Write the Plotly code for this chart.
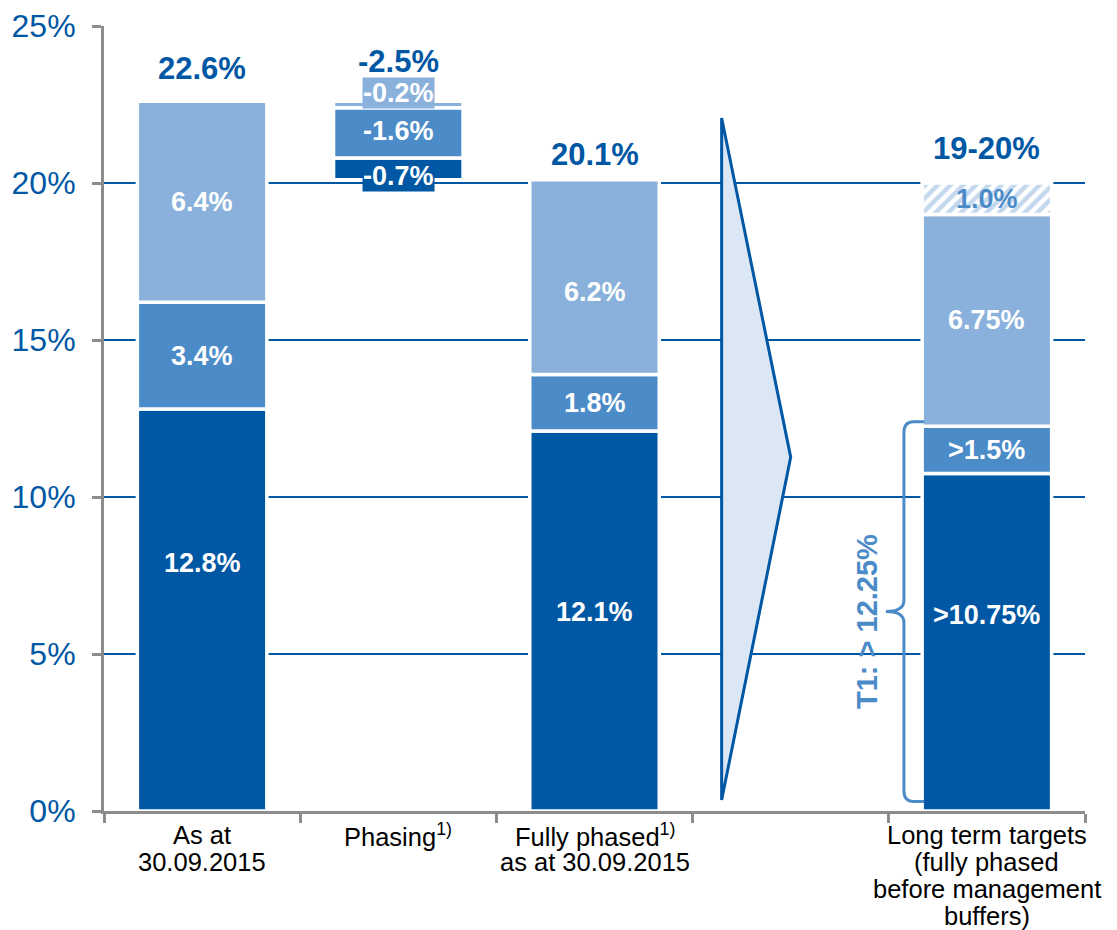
import plotly.graph_objects as go

# ---------------- data ----------------
cat_keys = ["as_at", "phasing", "fully_phased", "outlook", "long_term"]
cat_labels = [
    ["As at", "30.09.2015"],
    ["Phasing<sup>1)</sup>"],
    ["Fully phased<sup>1)</sup>", "as at 30.09.2015"],
    [],
    ["Long term targets", "(fully phased", "before management", "buffers)"],
]

cet1 = [12.8, -0.7, 12.1, None, 10.75]
at1 = [3.4, -1.6, 1.8, None, 1.5]
t2 = [6.4, -0.2, 6.2, None, 6.75]
buffer = [None, None, None, None, 1.0]

cet1_text = ["12.8%", "-0.7%", "12.1%", "", ">10.75%"]
at1_text = ["3.4%", "-1.6%", "1.8%", "", ">1.5%"]
t2_text = ["6.4%", "-0.2%", "6.2%", "", "6.75%"]
buffer_text = ["", "", "", "", "1.0%"]
total_text = ["22.6%", "-2.5%", "20.1%", "", "19-20%"]

y_ticks = [0, 5, 10, 15, 20, 25]
t1_label = "T1: > 12.25%"
t1_min = 12.25

# ---------------- style ----------------
DARK = "#0057A4"
MID = "#4B8BC8"
LIGHT = "#89B1DC"
ARROW_FILL = "#DCE7F5"
GREY = "#8C8C8C"
FONT = "Liberation Sans, Arial, sans-serif"
BAR_W = 0.66
EDGE = 3.5

series = [
    ("cet1", cet1, cet1_text, DARK, "white"),
    ("at1", at1, at1_text, MID, "white"),
    ("t2", t2, t2_text, LIGHT, "white"),
    ("buffer", buffer, buffer_text, "pattern", MID),
]
# vertical label nudges in px (reference label placement)
label_shift = {
    "cet1": [47, -7, 9, 0, 27],
    "at1": [0, 2, 0, 0, 0],
    "t2": [0, 12, -15, 0, 0],
    "buffer": [0, 0, 0, 0, 0],
}
total_shift = [33, 40, 25, 0, 35]

# ---------------- compute stacks ----------------
n = len(cat_keys)
bases = {s[0]: [None] * n for s in series}
heights = {s[0]: [None] * n for s in series}
col_top = [None] * n
running = 0.0
for i in range(n):
    vals = [s[1][i] for s in series]
    if all(v is None for v in vals):
        continue
    if any(v is not None and v < 0 for v in vals):
        level = running
        col_top[i] = level
        for name, arr, *_ in reversed(series):
            v = arr[i]
            if v is None:
                continue
            level += v
            bases[name][i] = level
            heights[name][i] = -v
        running = level
    else:
        level = 0.0
        for name, arr, *_ in series:
            v = arr[i]
            if v is None:
                continue
            bases[name][i] = level
            heights[name][i] = v
            level += v
        col_top[i] = level
        running = level

fig = go.Figure()
annotations = []
for name, arr, texts, color, tcolor in series:
    xs, ys, bs = [], [], []
    for i in range(n):
        if heights[name][i] is None:
            continue
        xs.append(cat_keys[i])
        ys.append(heights[name][i])
        bs.append(bases[name][i])
        neg = arr[i] < 0
        ann = dict(
            x=cat_keys[i], y=bases[name][i] + heights[name][i] / 2,
            xref="x", yref="y", text=texts[i], showarrow=False,
            yshift=label_shift[name][i],
            font=dict(family=FONT, size=27, color=tcolor, weight="bold"),
            borderpad=0,
        )
        if neg:
            ann["bgcolor"] = color
        annotations.append(ann)
    if color == "pattern":
        marker = dict(color="white",
                      pattern=dict(shape="/", fgcolor=LIGHT, bgcolor="white",
                                   size=9, solidity=0.5),
                      line=dict(color="white", width=EDGE))
    else:
        marker = dict(color=color, line=dict(color="white", width=EDGE))
    fig.add_trace(go.Bar(x=xs, y=ys, base=bs, width=BAR_W, marker=marker,
                         showlegend=False, hoverinfo="skip", name=name))

for i in range(n):
    if col_top[i] is None or not total_text[i]:
        continue
    annotations.append(dict(
        x=cat_keys[i], y=col_top[i], xref="x", yref="y", text=total_text[i],
        showarrow=False, yshift=total_shift[i], yanchor="middle",
        font=dict(family=FONT, size=31, color=DARK, weight="bold"),
    ))

# category labels (one annotation per line for tight line spacing)
for i, lines in enumerate(cat_labels):
    for j, line in enumerate(lines):
        annotations.append(dict(
            x=cat_keys[i], y=0, xref="x", yref="paper", text=line,
            showarrow=False, yanchor="middle", yshift=-(24 + 27 * j),
            borderpad=0,
            font=dict(family=FONT, size=25.5, color="black"),
        ))

# T1 label
annotations.append(dict(
    x=3.39, y=t1_min / 2 - 0.1, xref="x", yref="y", text=t1_label,
    showarrow=False, textangle=-90,
    font=dict(family=FONT, size=29, color=MID, weight="bold"),
))

# arrow
arrow_path = "M 2.648,22.07 L 3.0,11.27 L 2.648,0.35 Z"
# brace
xe, xv, xt = 3.68, 3.577, 3.485
yt, yb = t1_min + 0.15, 0.3
ym = (yt + yb) / 2
r = 0.35
rx = 0.05
brace_path = (
    f"M {xe},{yt} L {xv + rx},{yt} Q {xv},{yt} {xv},{yt - r} "
    f"L {xv},{ym + r} Q {xv},{ym} {xt},{ym} Q {xv},{ym} {xv},{ym - r} "
    f"L {xv},{yb + r} Q {xv},{yb} {xv + rx},{yb} L {xe},{yb}"
)
shapes = [
    dict(type="path", path=arrow_path, xref="x", yref="y",
         fillcolor=ARROW_FILL, line=dict(color=DARK, width=3), layer="above"),
    dict(type="path", path=brace_path, xref="x", yref="y",
         line=dict(color=MID, width=3), layer="above"),
]

fig.update_layout(
    width=1117, height=930,
    margin=dict(l=104, r=32, t=26, b=119),
    paper_bgcolor="white", plot_bgcolor="white",
    barmode="overlay", showlegend=False,
    annotations=annotations, shapes=shapes,
    xaxis=dict(
        categoryorder="array", categoryarray=cat_keys, range=[-0.5, n - 0.5],
        showticklabels=False, showgrid=False, zeroline=False,
        showline=True, linecolor=GREY, linewidth=3,
        ticks="outside", tickson="boundaries", ticklen=9, tickwidth=3,
        tickcolor=GREY,
    ),
    yaxis=dict(
        range=[0, 25], tickvals=y_ticks, ticktext=[f"{v}%" for v in y_ticks],
        showgrid=True, gridcolor=DARK, gridwidth=2, zeroline=False,
        showline=True, linecolor=GREY, linewidth=3,
        ticks="outside", ticklen=9, tickwidth=3, tickcolor=GREY,
        ticklabelstandoff=10,
        tickfont=dict(family=FONT, size=32, color=DARK),
        automargin=False,
    ),
)

fig.write_html(
    "out.html",
    config={"displayModeBar": False},
    post_script="document.body.style.margin='0';document.body.style.overflow='hidden';",
)
